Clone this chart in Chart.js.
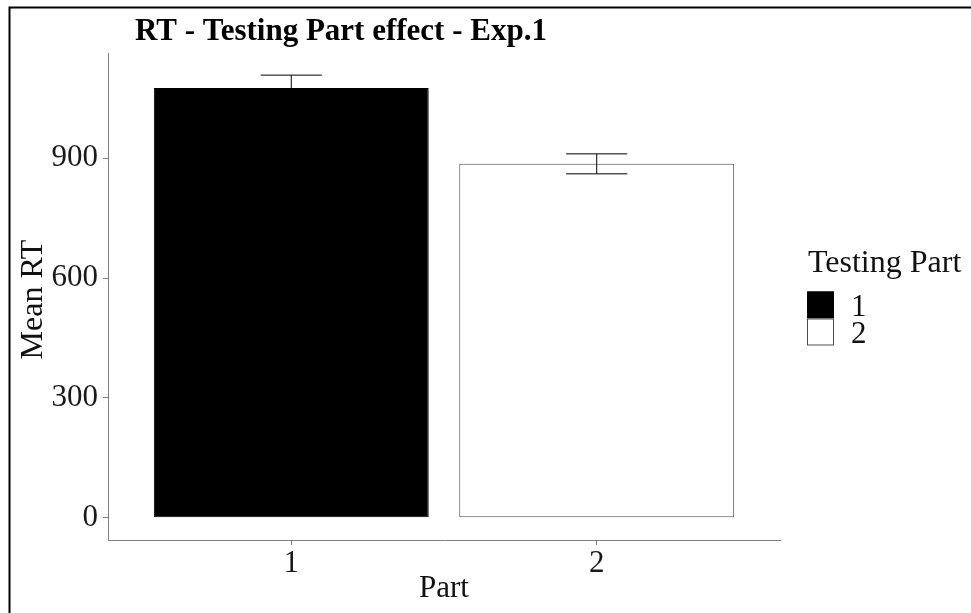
<!DOCTYPE html>
<html>
<head>
<meta charset="utf-8">
<title>RT - Testing Part effect - Exp.1</title>
<script src="https://cdn.jsdelivr.net/npm/chart.js@4.4.1/dist/chart.umd.min.js"></script>
<style>
    html, body {
        margin: 0;
        padding: 0;
        background: #ffffff;
    }
    .chart-wrap {
        position: relative;
        width: 971px;
        height: 613px;
    }
</style>
</head>
<body>
<div class="chart-wrap">
    <canvas id="rtChart" width="971" height="613"></canvas>
</div>
<script>
// Data
const parts = [1, 2];
const partLabels = ['1', '2'];
const meanRT = [1076, 886];
const seRT = [32, 25];
const yTicks = [0, 300, 600, 900];
const barColors = ['#000000', '#ffffff'];
const barBorders = ['#000000', '#4d4d4d'];

const chartTitle = 'RT - Testing Part effect - Exp.1';
const xTitle = 'Part';
const yTitle = 'Mean RT';
const legendTitle = 'Testing Part';

const serif = '"Liberation Serif", "Times New Roman", serif';
const axisGrey = '#7f7f7f';

// ggplot-like expansion of the scales
const yMax = Math.max(...meanRT.map((m, i) => m + seRT[i]));
const yPad = yMax * 0.05;

// Error bars, outer frame, titles and legend
const decorPlugin = {
    id: 'decor',
    afterDatasetsDraw(chart) {
        const ctx = chart.ctx;
        const xs = chart.scales.x;
        const ys = chart.scales.y;
        ctx.save();
        ctx.strokeStyle = '#000000';
        ctx.lineWidth = 1;
        parts.forEach((p, i) => {
            const x = xs.getPixelForValue(p);
            const half = xs.getPixelForValue(p + 0.1) - x;
            const top = ys.getPixelForValue(meanRT[i] + seRT[i]);
            const bot = ys.getPixelForValue(meanRT[i] - seRT[i]);
            ctx.beginPath();
            ctx.moveTo(x, top);
            ctx.lineTo(x, bot);
            ctx.moveTo(x - half, top);
            ctx.lineTo(x + half, top);
            ctx.moveTo(x - half, bot);
            ctx.lineTo(x + half, bot);
            ctx.stroke();
        });
        ctx.restore();
    },
    afterDraw(chart) {
        const ctx = chart.ctx;
        const area = chart.chartArea;
        ctx.save();

        // frame (top and left edges only)
        ctx.strokeStyle = '#000000';
        ctx.lineWidth = 2;
        ctx.beginPath();
        ctx.moveTo(971, 7.5);
        ctx.lineTo(9.5, 7.5);
        ctx.lineTo(9.5, 613);
        ctx.stroke();

        // main title
        ctx.fillStyle = '#000000';
        ctx.textBaseline = 'alphabetic';
        ctx.textAlign = 'left';
        ctx.font = 'bold 31px ' + serif;
        ctx.fillText(chartTitle, 135, 40);

        // axis titles
        ctx.fillStyle = '#111111';
        ctx.textAlign = 'center';
        ctx.font = '31px ' + serif;
        ctx.fillText(xTitle, (area.left + area.right) / 2, 597);
        ctx.save();
        ctx.font = '32px ' + serif;
        ctx.translate(42, (area.top + area.bottom) / 2 + 3);
        ctx.rotate(-Math.PI / 2);
        ctx.fillText(yTitle, 0, 0);
        ctx.restore();

        // legend
        ctx.textAlign = 'left';
        ctx.font = '32px ' + serif;
        ctx.fillText(legendTitle, 808, 272);
        const boxX = 807, boxW = 27, boxTop = 291.5;
        ctx.lineWidth = 1;
        partLabels.forEach((lab, i) => {
            const y = boxTop + i * boxW;
            ctx.fillStyle = barColors[i];
            ctx.fillRect(boxX, y, boxW, boxW);
            ctx.strokeStyle = barBorders[i];
            ctx.strokeRect(boxX + 0.5, y + 0.5, boxW - 1, boxW - 1);
            ctx.fillStyle = '#111111';
            ctx.font = '31px ' + serif;
            ctx.fillText(lab, 851, y + 24);
        });
        ctx.restore();
    }
};

const ctx = document.getElementById('rtChart').getContext('2d');
const chart = new Chart(ctx, {
    type: 'bar',
    data: {
        datasets: [{
            label: legendTitle,
            data: parts.map((p, i) => ({ x: p, y: meanRT[i] })),
            backgroundColor: barColors,
            borderColor: barBorders,
            borderWidth: 1,
            borderSkipped: false,
            barPercentage: 0.9,
            categoryPercentage: 1.0
        }]
    },
    options: {
        responsive: false,
        animation: false,
        layout: {
            padding: { top: 53, right: 191, bottom: 0, left: 0 }
        },
        scales: {
            x: {
                type: 'linear',
                min: 0.4,
                max: 2.6,
                offset: false,
                afterBuildTicks: function(scale) {
                    scale.ticks = parts.map(v => ({ value: v }));
                },
                afterFit: function(scale) {
                    scale.height = 73;
                },
                border: { display: true, color: axisGrey, width: 1 },
                grid: {
                    display: true,
                    drawOnChartArea: false,
                    drawTicks: true,
                    tickLength: 5,
                    offset: false,
                    color: axisGrey
                },
                ticks: {
                    color: '#1a1a1a',
                    padding: 0,
                    maxRotation: 0,
                    font: { family: serif, size: 31 },
                    callback: function(value, index) {
                        return partLabels[index];
                    }
                }
            },
            y: {
                min: -yPad,
                max: yMax + yPad,
                afterBuildTicks: function(scale) {
                    scale.ticks = yTicks.map(v => ({ value: v }));
                },
                afterFit: function(scale) {
                    scale.width = 108;
                },
                border: { display: true, color: axisGrey, width: 1 },
                grid: {
                    display: true,
                    drawOnChartArea: false,
                    drawTicks: true,
                    tickLength: 5,
                    color: axisGrey
                },
                ticks: {
                    color: '#1a1a1a',
                    padding: 5,
                    font: { family: serif, size: 31 }
                }
            }
        },
        plugins: {
            legend: { display: false },
            tooltip: { enabled: false },
            title: { display: false }
        }
    },
    plugins: [decorPlugin]
});
</script>
</body>
</html>
